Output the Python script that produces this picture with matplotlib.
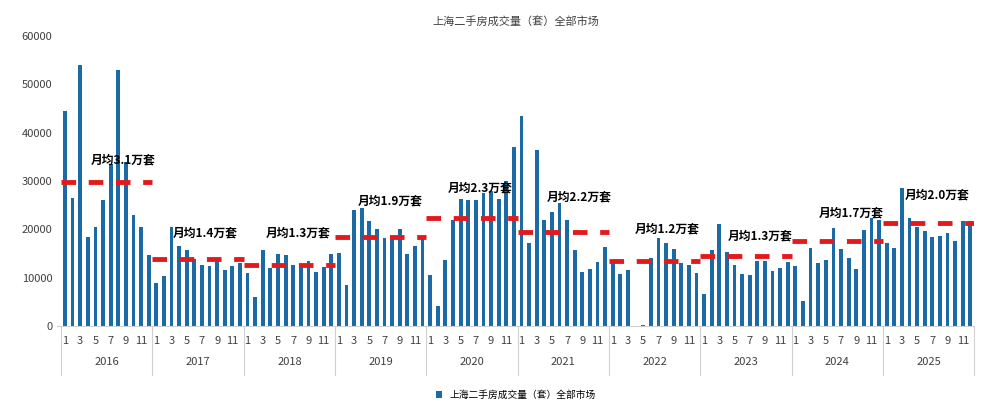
import numpy as np
import matplotlib.pyplot as plt
import matplotlib.transforms as mtransforms

plt.rcParams['font.family'] = ['Noto Sans CJK SC', 'DejaVu Sans']

years = ['2016', '2017', '2018', '2019', '2020', '2021', '2022', '2023', '2024', '2025']
month_ticks = ['1', '3', '5', '7', '9', '11']

v2016 = [44500, 26500, 54000, 18500, 20500, 26000, 33500, 53000, 34000, 23000, 20500, 14700]
v2017 = [9000, 10300, 20500, 16500, 15700, 13800, 12600, 12400, 13800, 11500, 12400, 13100]
v2018 = [11000, 6000, 15800, 12000, 14900, 14600, 12600, 12800, 13500, 11200, 12200, 15000]
v2019 = [15100, 8500, 24000, 24500, 21700, 20100, 18200, 18300, 20100, 15000, 16600, 18300]
v2020 = [10500, 4100, 13700, 22000, 26200, 26000, 26000, 27500, 28000, 26200, 30000, 37000]
v2021 = [43500, 17100, 36500, 21900, 23500, 25500, 21900, 15700, 11100, 11800, 13200, 16300]
v2022 = [13400, 10700, 11600, 0, 200, 14000, 18200, 17200, 16000, 13000, 12600, 10900]
v2023 = [6600, 15800, 21200, 15300, 12600, 10700, 10500, 13400, 13400, 11400, 12000, 13200]
v2024 = [12500, 5200, 16100, 13100, 13600, 20300, 16000, 14100, 11900, 19800, 22300, 22000]
v2025 = [17200, 16200, 28500, 22300, 20400, 19600, 18400, 18700, 19300, 17600, 21700, 21700]
values = v2016 + v2017 + v2018 + v2019 + v2020 + v2021 + v2022 + v2023 + v2024 + v2025

avg_lines = [29800, 13900, 12700, 18500, 22400, 19500, 13400, 14400, 17500, 21300]
avg_labels = ['月均3.1万套', '月均1.4万套', '月均1.3万套', '月均1.9万套', '月均2.3万套',
              '月均2.2万套', '月均1.2万套', '月均1.3万套', '月均1.7万套', '月均2.0万套']
label_x = [7.6, 18.4, 30.7, 42.7, 54.6, 67.6, 79.1, 91.4, 103.4, 114.6]
label_y = [34300, 19150, 19150, 25800, 28500, 26600, 20050, 18650, 23300, 27100]

title = '上海二手房成交量（套）全部市场'

fig, ax = plt.subplots(figsize=(9.89, 4.18), dpi=100)
fig.subplots_adjust(left=0.058, right=0.985, bottom=0.22, top=0.914)

x = np.arange(len(values))
ax.bar(x, values, width=0.5, color='#1b6aa5', label=title, zorder=2)

for i, (avg, lab) in enumerate(zip(avg_lines, avg_labels)):
    ax.plot([i * 12 - 0.5, i * 12 + 11.5], [avg, avg], color='#e31a1c', lw=3.5,
            dashes=(3, 2.6), zorder=3)
    ax.text(label_x[i], label_y[i], lab, ha='center', va='center', fontsize=8.5,
            fontweight='bold', zorder=4)

ax.set_xlim(-1, len(values) - 0.5)
ax.set_ylim(0, 60000)
ax.set_yticks(range(0, 60001, 10000))
ax.tick_params(axis='y', length=0, labelsize=8, colors='#404040')
for s in ['top', 'right', 'left']:
    ax.spines[s].set_visible(False)
ax.spines['bottom'].set_color('#d0d0d0')

ax.set_xticks([])
trans = mtransforms.blended_transform_factory(ax.transData, ax.transAxes)
for i, yr in enumerate(years):
    for j, m in enumerate(month_ticks):
        ax.text(i * 12 + j * 2, -0.05, m, transform=trans, ha='center', va='center',
                fontsize=8, color='#404040')
    ax.text(i * 12 + 5.5, -0.125, yr, transform=trans, ha='center', va='center',
            fontsize=8, color='#404040')
for i in range(len(years) + 1):
    ax.plot([i * 12 - 0.5, i * 12 - 0.5], [0, -0.17], transform=trans, color='#d0d0d0',
            lw=0.8, clip_on=False)

ax.set_title(title, fontsize=8, color='#404040', pad=8)
ax.legend(loc='upper center', bbox_to_anchor=(0.5, -0.19), frameon=False, fontsize=7,
          handlelength=0.6, handleheight=0.6)

fig.savefig('out.png')
